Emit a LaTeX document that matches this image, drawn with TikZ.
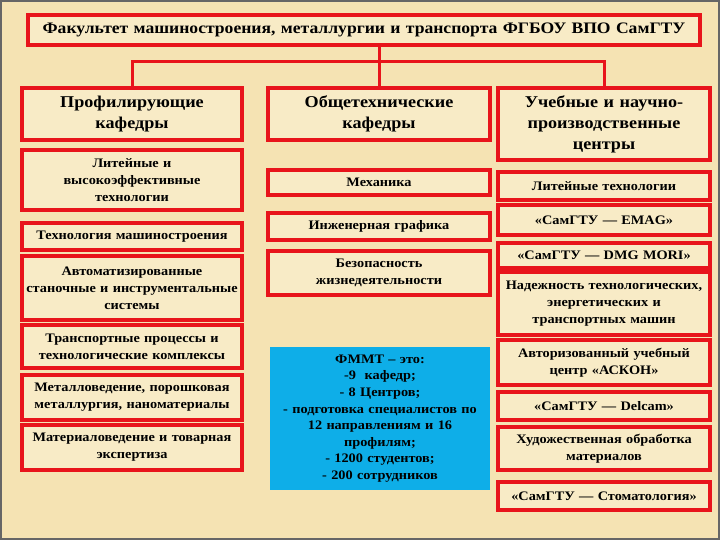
\documentclass[tikz,border=0pt]{standalone}
\usepackage{fontspec}
\setmainfont{Liberation Serif}[FakeStretch=1.1]
\definecolor{bg}{HTML}{F5E3B3}
\definecolor{boxbg}{HTML}{F8EBC6}
\definecolor{rd}{HTML}{E8141B}
\definecolor{bl}{HTML}{0EAEE8}
\begin{document}
\begin{tikzpicture}[x=1pt,y=-1pt,
  bx/.style={draw=rd,line width=3.5pt,fill=boxbg,align=center,inner sep=1pt,font=\bfseries\fontsize{13}{17}\selectfont},
  hd/.style={bx,font=\bfseries\fontsize{16.5}{21}\selectfont},
  ln/.style={draw=rd,line width=3pt}]
\fill[bg] (0,0) rectangle (720,540);
\draw[line width=2pt,draw=black!60] (1,1) rectangle (719,539);
\newcommand{\B}[6]{\node[#1,minimum width=#4-#2,minimum height=#5-#3,text width=#4-#2-4] (#6) at ({(#2+#4)/2},{(#3+#5)/2})}
\B{bx,font=\bfseries\fontsize{16}{18}\selectfont}{28}{15}{700}{45}{t} {Факультет машиностроения, металлургии и транспорта ФГБОУ ВПО СамГТУ};
\B{hd}{22}{88}{242}{140}{h1} {Профилирующие\\кафедры};
\B{hd}{268}{88}{490}{140}{h2} {Общетехнические\\кафедры};
\B{hd}{498}{88}{710}{160}{h3} {Учебные и научно-\\производственные\\центры};
\B{bx}{22}{150}{242}{210}{a1} {Литейные и\\высокоэффективные\\технологии};
\B{bx}{22}{223}{242}{250}{a2} {Технология машиностроения};
\B{bx}{22}{256}{242}{320}{a3} {Автоматизированные\\станочные и инструментальные\\системы};
\B{bx}{22}{325}{242}{368}{a4} {Транспортные процессы и\\технологические комплексы};
\B{bx}{22}{375}{242}{420}{a5} {Металловедение, порошковая\\металлургия, наноматериалы};
\B{bx}{22}{425}{242}{470}{a6} {Материаловедение и товарная\\экспертиза};
\B{bx}{268}{170}{490}{195}{b1} {Механика};
\B{bx}{268}{213}{490}{240}{b2} {Инженерная графика};
\B{bx}{268}{251}{490}{295}{b3} {Безопасность\\жизнедеятельности};
\node[fill=bl,minimum width=220,minimum height=143,text width=218,align=center,inner sep=0pt,font=\bfseries\fontsize{13}{16.6}\selectfont] (b4) at (380,418.5) {ФММТ – это:\\-9~ кафедр;\\- 8 Центров;\\- подготовка специалистов по\\12 направлениям и 16\\профилям;\\- 1200 студентов;\\- 200 сотрудников};
\B{bx}{498}{172}{710}{200}{c1} {Литейные технологии};
\B{bx}{498}{205}{710}{235}{c2} {«СамГТУ — EMAG»};
\B{bx}{498}{243}{710}{268}{c3} {«СамГТУ — DMG MORI»};
\B{bx}{498}{272}{710}{335}{c4} {Надежность технологических,\\энергетических и\\транспортных машин};
\B{bx}{498}{340}{710}{385}{c5} {Авторизованный учебный\\центр «АСКОН»};
\B{bx}{498}{392}{710}{420}{c6} {«СамГТУ — Delcam»};
\B{bx}{498}{427}{710}{470}{c7} {Художественная обработка\\материалов};
\B{bx}{498}{482}{710}{510}{c8} {«СамГТУ — Стоматология»};
\coordinate (j) at (h2.north|-0,62);
\draw[ln] (j|-t.south) -- (j);
\draw[ln] (h1.north) |- (j) -| (h3.north);
\draw[ln] (j) -- (h2.north);
\end{tikzpicture}
\end{document}
